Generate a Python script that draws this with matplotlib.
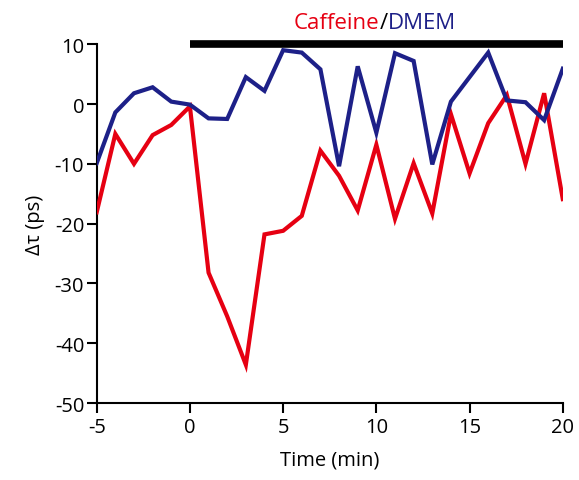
import matplotlib
matplotlib.use("Agg")
import matplotlib.pyplot as plt

time = list(range(-5, 21))
dmem = [-9.9, -1.4, 1.8, 2.8, 0.4, -0.1, -2.4, -2.5, 4.5, 2.2, 9.0, 8.6, 5.8, -10.4,
        6.3, -4.8, 8.5, 7.2, -10.1, 0.4, 4.5, 8.6, 0.6, 0.3, -2.7, 5.9]
caffeine = [-18.1, -5.0, -10.0, -5.2, -3.5, -0.4, -28.2, -35.5, -43.6, -21.8, -21.2, -18.7,
            -7.8, -12.0, -17.8, -6.8, -19.2, -9.9, -18.3, -1.7, -11.6, -3.2, 1.5, -10.0, 1.8, -15.9]
bar_span = [0, 20]
xticks = [-5, 0, 5, 10, 15, 20]
yticks = [-50, -40, -30, -20, -10, 0, 10]

plt.rcParams['font.family'] = ['Open Sans', 'DejaVu Sans']
plt.rcParams['axes.unicode_minus'] = False
RED = '#E60012'
BLUE = '#1D2088'

fig = plt.figure(figsize=(5.79, 4.81), dpi=100)
ax = fig.add_axes([0.167, 0.160, 0.805, 0.746])
ax.plot(time, caffeine, color=RED, lw=3.0, solid_joinstyle='miter', zorder=3)
ax.plot(time, dmem, color=BLUE, lw=3.0, solid_joinstyle='miter', zorder=4)
ax.plot(bar_span, [10, 10], color='black', lw=5.5, solid_capstyle='butt', clip_on=False, zorder=5)

ax.set_xlim(-5, 20)
ax.set_ylim(-50, 10)
ax.set_xticks(xticks)
ax.set_yticks(yticks)
for s in ['top', 'right']:
    ax.spines[s].set_visible(False)
for s in ['left', 'bottom']:
    ax.spines[s].set_linewidth(1.5)
ax.tick_params(width=1.5, length=7, labelsize=14.5, color='black')
ax.tick_params(axis='x', pad=3)
ax.tick_params(axis='y', pad=2)
ax.set_xlabel('Time (min)', fontsize=14.5, labelpad=9)
ax.set_ylabel('Δτ (ps)', fontsize=14.5, labelpad=7)

# title pieces: Caffeine / DMEM, centered on slash
ty = 13.6
slash = ax.text(10.4, ty, '/', color='black', fontsize=16, ha='center', va='center', clip_on=False)
fig.canvas.draw()
r = fig.canvas.get_renderer()
bb = slash.get_window_extent(r)
inv = ax.transData.inverted()
xl = inv.transform((bb.x0, 0))[0]
xr = inv.transform((bb.x1, 0))[0]
ax.text(xl, ty, 'Caffeine', color=RED, fontsize=16, ha='right', va='center', clip_on=False)
ax.text(xr, ty, 'DMEM', color=BLUE, fontsize=16, ha='left', va='center', clip_on=False)

fig.savefig('out.png', dpi=100)
